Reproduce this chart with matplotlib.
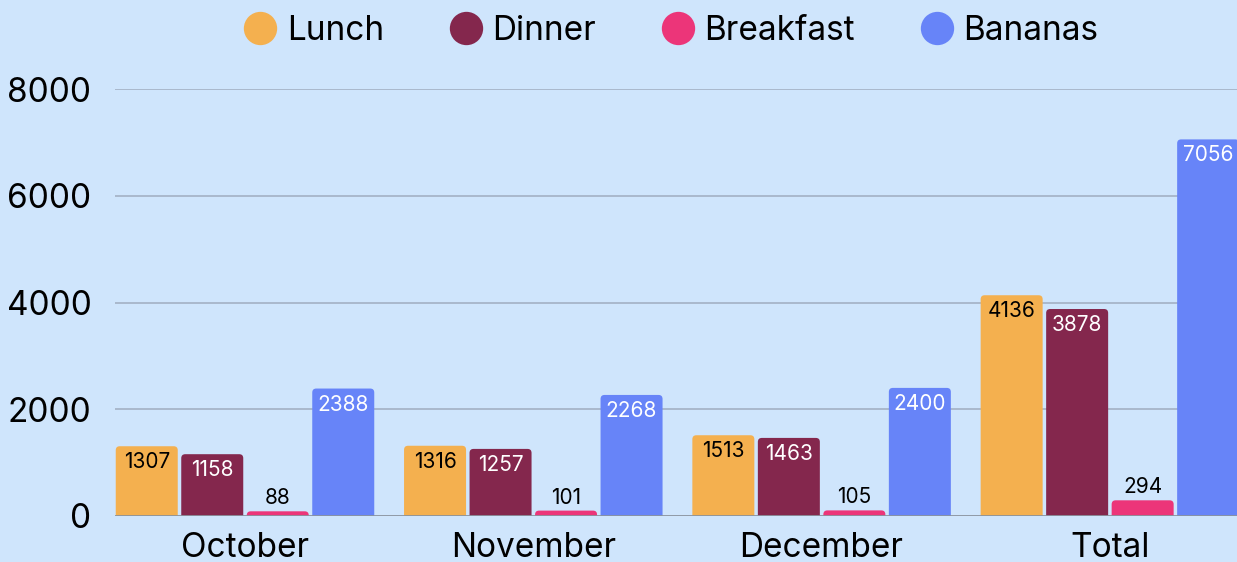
import matplotlib
matplotlib.use("Agg")
import matplotlib.pyplot as plt
from matplotlib.patches import FancyBboxPatch
from matplotlib.lines import Line2D
import numpy as np

categories = ["October", "November", "December", "Total"]
series_names = ["Lunch", "Dinner", "Breakfast", "Bananas"]
lunch = [1307, 1316, 1513, 4136]
dinner = [1158, 1257, 1463, 3878]
breakfast = [88, 101, 105, 294]
bananas = [2388, 2268, 2400, 7056]
y_ticks = [0, 2000, 4000, 6000, 8000]

colors = ["#f4b04f", "#84274d", "#ec3579", "#6784f8"]
label_colors = ["black", "white", "black", "white"]
bg = "#cfe5fc"

plt.rcParams['font.family'] = ['Inter', 'DejaVu Sans']

W, H = 1237, 562
dpi = 100
fig = plt.figure(figsize=(W / dpi, H / dpi), dpi=dpi, facecolor=bg)

ax_left, ax_right = 115, 1237
ax_top, ax_bottom = 89, 516
ax = fig.add_axes([ax_left / W, (H - ax_bottom) / H, (ax_right - ax_left) / W, (ax_bottom - ax_top) / H])
ax.set_facecolor(bg)

pitch_px = 288.3
slot = 65.5 / pitch_px
bw = 62 / pitch_px
xmin = -(245 - ax_left) / pitch_px
xmax = (ax_right - 245) / pitch_px
ax.set_xlim(xmin, xmax)
ax.set_ylim(0, 8000)

x = np.arange(len(categories))
all_series = [lunch, dinner, breakfast, bananas]

px_x = pitch_px  # px per x unit
px_y = (ax_bottom - ax_top) / 8000  # px per y unit
aspect = (1 / px_y) / (1 / px_x)
r = 4 / px_x

for gy in y_ticks[1:]:
    ax.axhline(gy, color="#a3b1c4", lw=1.2, zorder=0)
ax.axhline(0, color="#8a939e", lw=2, zorder=3)

for si, (vals, col, lc) in enumerate(zip(all_series, colors, label_colors)):
    offs = (si - 1.5) * slot
    bars = ax.bar(x + offs, vals, width=bw, color=col, alpha=0)
    for b, v in zip(bars, vals):
        x0 = b.get_x()
        extra = 10 / px_y
        p = FancyBboxPatch((x0, -extra), bw, v + extra,
                           boxstyle=f"round,pad=0,rounding_size={r}",
                           mutation_aspect=aspect, facecolor=col, edgecolor="none", zorder=2)
        ax.add_patch(p)
        cx = x0 + bw / 2
        if v < 500:
            ax.annotate(str(v), (cx, v), xytext=(0, 7), textcoords="offset pixels",
                        ha="center", va="baseline", fontsize=15, color="black", zorder=4)
        else:
            ax.annotate(str(v), (cx, v), xytext=(0, -22), textcoords="offset pixels",
                        ha="center", va="baseline", fontsize=15, color=lc, zorder=4)

for s in ax.spines.values():
    s.set_visible(False)
ax.set_yticks(y_ticks)
ax.set_yticklabels([str(t) for t in y_ticks], fontsize=24)
ax.tick_params(axis="y", length=0, pad=17)
ax.set_xticks(x)
ax.set_xticklabels(categories, fontsize=24)
ax.tick_params(axis="x", length=0, pad=11.5)

handles = [Line2D([0], [0], marker="o", linestyle="none", markersize=24,
                  markerfacecolor=c, markeredgecolor="none") for c in colors]
fig.legend(handles, series_names, loc="center", bbox_to_anchor=(671 / W, 1 - 31 / H),
           ncol=4, frameon=False, fontsize=24, handlelength=1.0, handletextpad=0.3,
           columnspacing=1.95, borderpad=0, borderaxespad=0)

fig.savefig("out.png", dpi=dpi, facecolor=bg)
